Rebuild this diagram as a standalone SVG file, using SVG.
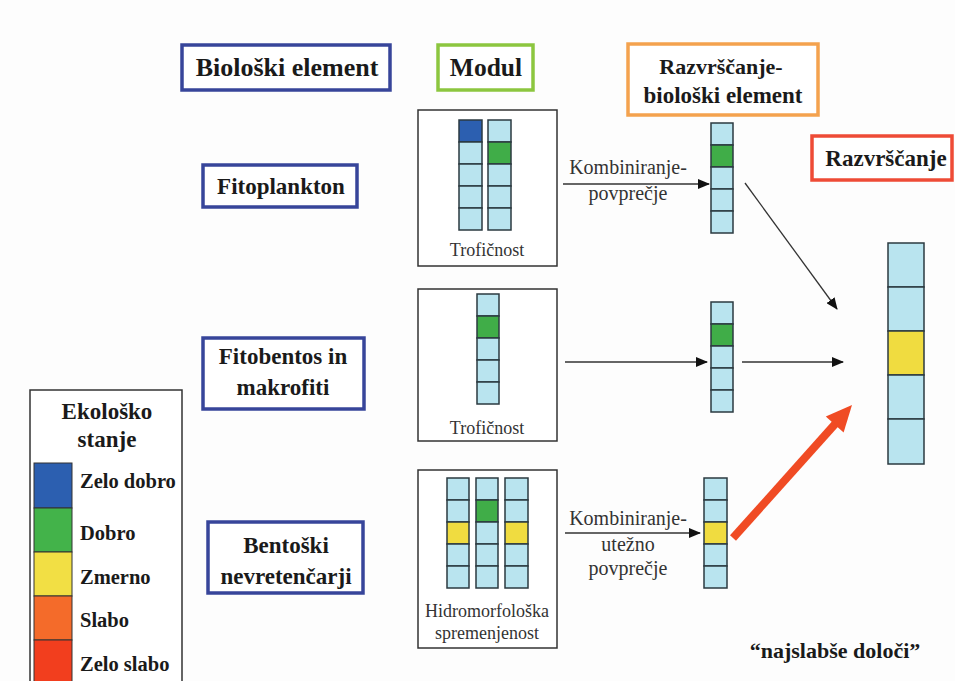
<svg xmlns="http://www.w3.org/2000/svg" width="955" height="681" viewBox="0 0 955 681">
<style>
.hb{font-family:'Liberation Serif','DejaVu Serif','Noto Serif',serif;font-weight:bold;fill:#1a1a1a;text-anchor:middle}
.rg{font-family:'Liberation Serif','DejaVu Serif','Noto Serif',serif;fill:#333;text-anchor:middle}
.lg{font-family:'Liberation Serif','DejaVu Serif','Noto Serif',serif;font-weight:bold;fill:#1a1a1a}
.c{fill:#b9e4ef;stroke:#2b3a40;stroke-width:1.5}
.cb{fill:#2c5fb0;stroke:#2b3a40;stroke-width:1.5}
.cg{fill:#40ad48;stroke:#2b3a40;stroke-width:1.5}
.cy{fill:#f0dc40;stroke:#2b3a40;stroke-width:1.5}
.mod{fill:#fff;stroke:#333;stroke-width:1.5}
.be{fill:#fff;stroke:#37459a;stroke-width:3.5}
.ln{stroke:#333;stroke-width:1.3;fill:none}
</style>
<defs>
<marker id="ah" markerUnits="userSpaceOnUse" markerWidth="12" markerHeight="10" refX="11" refY="5" orient="auto">
<path d="M0,0 L12,5 L0,10 Z" fill="#111"/>
</marker>
</defs>
<rect width="955" height="681" fill="#fdfdfd"/>

<g id="hdr-bioloski">
<rect x="182" y="45" width="208" height="45" class="be"/>
<text x="287" y="76" class="hb" font-size="26">Biološki element</text>
</g>
<g id="hdr-modul">
<rect x="438" y="45" width="95" height="45" fill="#fff" stroke="#8cc63f" stroke-width="3.5"/>
<text x="486" y="76" class="hb" font-size="25.5">Modul</text>
</g>
<g id="hdr-razv-bio">
<rect x="628" y="44" width="190" height="71" fill="#fff" stroke="#f4a24e" stroke-width="3.5"/>
<text x="721" y="74" class="hb" font-size="22">Razvrščanje-</text>
<text x="723" y="103" class="hb" font-size="23">biološki element</text>
</g>
<g id="hdr-razv">
<rect x="812" y="136" width="140" height="44" fill="#fff" stroke="#ee4b36" stroke-width="3.5"/>
<text x="886" y="166" class="hb" font-size="23">Razvrščanje</text>
</g>

<g id="el-fitoplankton">
<rect x="203" y="165" width="154" height="42" class="be"/>
<text x="281" y="194" class="hb" font-size="23">Fitoplankton</text>
</g>
<g id="el-fitobentos">
<rect x="203" y="338" width="161" height="71" class="be"/>
<text x="283" y="364" class="hb" font-size="23">Fitobentos in</text>
<text x="283" y="395" class="hb" font-size="23">makrofiti</text>
</g>
<g id="el-bentoski">
<rect x="208" y="522" width="155" height="71" class="be"/>
<text x="286" y="553" class="hb" font-size="23">Bentoški</text>
<text x="286" y="584" class="hb" font-size="23">nevretenčarji</text>
</g>

<g id="mod-top">
<rect x="418" y="110" width="139" height="156" class="mod"/>
<rect x="459" y="120" width="23" height="22" class="cb"/>
<rect x="459" y="142" width="23" height="22" class="c"/>
<rect x="459" y="164" width="23" height="22" class="c"/>
<rect x="459" y="186" width="23" height="22" class="c"/>
<rect x="459" y="208" width="23" height="22" class="c"/>
<rect x="488" y="120" width="23" height="22" class="c"/>
<rect x="488" y="142" width="23" height="22" class="cg"/>
<rect x="488" y="164" width="23" height="22" class="c"/>
<rect x="488" y="186" width="23" height="22" class="c"/>
<rect x="488" y="208" width="23" height="22" class="c"/>
<text x="487" y="256" class="rg" font-size="18">Trofičnost</text>
</g>
<g id="mod-mid">
<rect x="418" y="289" width="139" height="152" class="mod"/>
<rect x="477" y="294" width="22" height="22" class="c"/>
<rect x="477" y="316" width="22" height="22" class="cg"/>
<rect x="477" y="338" width="22" height="22" class="c"/>
<rect x="477" y="360" width="22" height="22" class="c"/>
<rect x="477" y="382" width="22" height="22" class="c"/>
<text x="487" y="434" class="rg" font-size="18">Trofičnost</text>
</g>
<g id="mod-bot">
<rect x="418" y="470" width="139" height="178" class="mod"/>
<rect x="447" y="478" width="22" height="22" class="c"/>
<rect x="447" y="500" width="22" height="22" class="c"/>
<rect x="447" y="522" width="22" height="22" class="cy"/>
<rect x="447" y="544" width="22" height="22" class="c"/>
<rect x="447" y="566" width="22" height="22" class="c"/>
<rect x="476" y="478" width="22" height="22" class="c"/>
<rect x="476" y="500" width="22" height="22" class="cg"/>
<rect x="476" y="522" width="22" height="22" class="c"/>
<rect x="476" y="544" width="22" height="22" class="c"/>
<rect x="476" y="566" width="22" height="22" class="c"/>
<rect x="505" y="478" width="23" height="22" class="c"/>
<rect x="505" y="500" width="23" height="22" class="c"/>
<rect x="505" y="522" width="23" height="22" class="cy"/>
<rect x="505" y="544" width="23" height="22" class="c"/>
<rect x="505" y="566" width="23" height="22" class="c"/>
<text x="487" y="617" class="rg" font-size="18">Hidromorfološka</text>
<text x="487" y="639" class="rg" font-size="18">spremenjenost</text>
</g>

<g id="res-top">
<rect x="711" y="123" width="22" height="22" class="c"/>
<rect x="711" y="145" width="22" height="22" class="cg"/>
<rect x="711" y="167" width="22" height="22" class="c"/>
<rect x="711" y="189" width="22" height="22" class="c"/>
<rect x="711" y="211" width="22" height="22" class="c"/>
</g>
<g id="res-mid">
<rect x="711" y="302" width="22" height="22" class="c"/>
<rect x="711" y="324" width="22" height="22" class="cg"/>
<rect x="711" y="346" width="22" height="22" class="c"/>
<rect x="711" y="368" width="22" height="22" class="c"/>
<rect x="711" y="390" width="22" height="22" class="c"/>
</g>
<g id="res-bot">
<rect x="704" y="478" width="23" height="22" class="c"/>
<rect x="704" y="500" width="23" height="22" class="c"/>
<rect x="704" y="522" width="23" height="22" class="cy"/>
<rect x="704" y="544" width="23" height="22" class="c"/>
<rect x="704" y="566" width="23" height="22" class="c"/>
</g>
<g id="final">
<rect x="888" y="243" width="36" height="44" class="c"/>
<rect x="888" y="287" width="36" height="44" class="c"/>
<rect x="888" y="331" width="36" height="44" class="cy"/>
<rect x="888" y="375" width="36" height="44" class="c"/>
<rect x="888" y="419" width="36" height="45" class="c"/>
</g>

<g id="connectors">
<line x1="563" y1="184" x2="709" y2="184" class="ln" marker-end="url(#ah)"/>
<line x1="745" y1="183" x2="837" y2="309" class="ln" marker-end="url(#ah)"/>
<line x1="565" y1="362" x2="707" y2="362" class="ln" marker-end="url(#ah)"/>
<line x1="742" y1="362" x2="843" y2="362" class="ln" marker-end="url(#ah)"/>
<line x1="565" y1="533" x2="700" y2="533" class="ln" marker-end="url(#ah)"/>
<line x1="733" y1="538" x2="836" y2="423" stroke="#f04b24" stroke-width="8"/>
<polygon points="852,405 843.6,432.4 825.8,416.4" fill="#f04b24"/>
<text x="628" y="174" class="rg" font-size="20">Kombiniranje-</text>
<text x="628" y="200" class="rg" font-size="20">povprečje</text>
<text x="628" y="525" class="rg" font-size="20">Kombiniranje-</text>
<text x="628" y="551" class="rg" font-size="20">utežno</text>
<text x="628" y="575" class="rg" font-size="20">povprečje</text>
</g>

<g id="legend">
<path d="M30,681 L30,390 L182,390 L182,681" fill="#fff" stroke="#333" stroke-width="1.5"/>
<text x="107" y="419" class="hb" font-size="23">Ekološko</text>
<text x="107" y="447" class="hb" font-size="23">stanje</text>
<rect x="34" y="463" width="38" height="45" fill="#2c5fb0" stroke="#333" stroke-width="1"/>
<rect x="34" y="508" width="38" height="44" fill="#43b34a" stroke="#333" stroke-width="1"/>
<rect x="34" y="552" width="38" height="44" fill="#f2df44" stroke="#333" stroke-width="1"/>
<rect x="34" y="596" width="38" height="44" fill="#f46b2a" stroke="#333" stroke-width="1"/>
<rect x="34" y="640" width="38" height="45" fill="#f23e1e" stroke="#333" stroke-width="1"/>
<text x="80" y="488" class="lg" font-size="20.5">Zelo dobro</text>
<text x="80" y="540" class="lg" font-size="20.5">Dobro</text>
<text x="80" y="584" class="lg" font-size="20.5">Zmerno</text>
<text x="80" y="627" class="lg" font-size="20.5">Slabo</text>
<text x="80" y="671" class="lg" font-size="20.5">Zelo slabo</text>
</g>

<text x="835" y="658" class="hb" font-size="22">“najslabše določi”</text>
</svg>
